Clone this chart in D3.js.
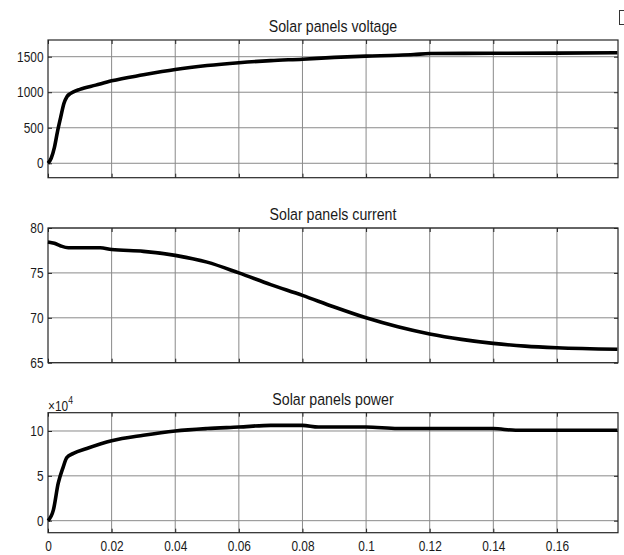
<!DOCTYPE html>
<html>
<head>
<meta charset="utf-8">
<script src="https://cdn.jsdelivr.net/npm/d3@7"></script>
<style>
  body { margin: 0; background: #fff; }
  svg { display: block; }
  text { font-family: "Liberation Sans", Arial, sans-serif; fill: #1a1a1a; }
</style>
</head>
<body>
<svg id="chart"></svg>
<script>
// readings taken off the scope plots
const xTicks = [0, 0.02, 0.04, 0.06, 0.08, 0.1, 0.12, 0.14, 0.16];

const voltageT = [0, 0.001, 0.002, 0.003, 0.004, 0.005, 0.006, 0.007, 0.008, 0.01, 0.015, 0.02, 0.03, 0.04, 0.05, 0.06, 0.07, 0.08, 0.09, 0.1, 0.11, 0.115, 0.12, 0.14, 0.16, 0.179];
const voltageV = [0, 70, 220, 450, 650, 840, 940, 980, 1005, 1040, 1100, 1160, 1245, 1320, 1375, 1415, 1445, 1465, 1490, 1508, 1520, 1530, 1545, 1548, 1550, 1555];
const voltageTicks = [0, 500, 1000, 1500];

const currentT = [0, 0.002, 0.004, 0.0064, 0.01, 0.0164, 0.02, 0.03, 0.04, 0.05, 0.06, 0.07, 0.08, 0.09, 0.1, 0.11, 0.12, 0.13, 0.14, 0.15, 0.16, 0.179];
const currentA = [78.45, 78.3, 78.0, 77.8, 77.8, 77.8, 77.6, 77.4, 76.95, 76.2, 75.0, 73.7, 72.5, 71.2, 70.0, 69.0, 68.2, 67.6, 67.15, 66.85, 66.67, 66.5];
const currentTicks = [65, 70, 75, 80];

const powerT = [0, 0.0017, 0.0032, 0.0048, 0.0059, 0.008, 0.0122, 0.02, 0.03, 0.04, 0.05, 0.06, 0.07, 0.08, 0.085, 0.1, 0.11, 0.14, 0.147, 0.16, 0.179];
const powerW = [0, 12000, 41500, 60000, 70400, 75000, 80400, 89000, 95200, 100000, 102700, 104400, 106300, 106300, 104400, 104400, 102700, 102700, 100800, 100800, 100800];
const powerTicks = [0, 50000, 100000];

const titles = ['Solar panels voltage', 'Solar panels current', 'Solar panels power'];

const W = 624, H = 555;
const svg = d3.select('#chart').attr('width', W).attr('height', H);

const left = 48, right = 618;
const x = d3.scaleLinear().domain([0, 0.1792]).range([left, right]);
const fmtX = d3.format('~g');

// squeeze text horizontally, the source uses a narrow face
function narrow(sel, k) {
  sel.each(function () {
    const t = d3.select(this);
    const tx = +t.attr('x') || 0;
    const ty = +t.attr('y') || 0;
    t.attr('x', 0).attr('y', 0).attr('transform', `translate(${tx},${ty}) scale(${k},1)`);
  });
}

const panels = [
  { title: titles[0], t: voltageT, v: voltageV, ticks: voltageTicks, domain: [-203, 1735], top: 40, bottom: 177.7, fmt: d => d },
  { title: titles[1], t: currentT, v: currentA, ticks: currentTicks, domain: [65, 80], top: 228, bottom: 362.7, fmt: d => d },
  { title: titles[2], t: powerT, v: powerW, ticks: powerTicks, domain: [-13400, 120400], top: 412.7, bottom: 532.7, fmt: d => d / 1e4 },
];

panels.forEach((p, i) => {
  const y = d3.scaleLinear().domain(p.domain).range([p.bottom, p.top]);
  const g = svg.append('g').classed('panel', true);

  // grid
  g.append('g').selectAll('line').data(xTicks.slice(1)).enter()
    .append('line')
    .attr('x1', d => x(d)).attr('x2', d => x(d))
    .attr('y1', p.top).attr('y2', p.bottom)
    .attr('stroke', '#8a8a8a').attr('stroke-width', 1);
  g.append('g').selectAll('line').data(p.ticks).enter()
    .append('line')
    .attr('x1', left).attr('x2', right)
    .attr('y1', d => y(d)).attr('y2', d => y(d))
    .attr('stroke', '#8a8a8a').attr('stroke-width', 1);

  // axes with inward ticks
  const yl = d3.axisLeft(y).tickValues(p.ticks).tickSizeInner(-4).tickSizeOuter(0).tickFormat(p.fmt);
  const yr = d3.axisRight(y).tickValues(p.ticks).tickSizeInner(-4).tickSizeOuter(0).tickFormat('');
  const xt = d3.axisTop(x).tickValues(xTicks).tickSizeInner(-4).tickSizeOuter(0).tickFormat('');
  const xb = d3.axisBottom(x).tickValues(xTicks).tickSizeInner(-4).tickSizeOuter(0)
    .tickFormat(i === 2 ? fmtX : '');

  const ga = g.append('g').attr('transform', `translate(${left},0)`).call(yl);
  g.append('g').attr('transform', `translate(${right},0)`).call(yr);
  g.append('g').attr('transform', `translate(0,${p.top})`).call(xt);
  const gb = g.append('g').attr('transform', `translate(0,${p.bottom})`).call(xb);
  g.selectAll('.domain').remove();
  g.selectAll('.tick line').attr('stroke', '#222');
  g.selectAll('.tick text').attr('font-size', 14.5).attr('fill', '#1a1a1a')
    .style('font-family', '"Liberation Sans", Arial, sans-serif');
  ga.selectAll('.tick text').attr('x', -4.5);
  gb.selectAll('.tick text').attr('y', 551 - p.bottom).attr('dy', 0);
  narrow(ga.selectAll('.tick text'), 0.82);
  narrow(gb.selectAll('.tick text'), 0.82);

  // box
  g.append('rect')
    .attr('x', left).attr('y', p.top)
    .attr('width', right - left).attr('height', p.bottom - p.top)
    .attr('fill', 'none').attr('stroke', '#262626').attr('stroke-width', 1.2);

  // title
  const tt = g.append('text')
    .attr('x', (left + right) / 2).attr('y', p.top - 8)
    .attr('text-anchor', 'middle').attr('font-size', 16.5)
    .text(p.title);
  narrow(tt, 0.86);

  // trace
  const line = d3.line()
    .x((d, k) => x(p.t[k]))
    .y(d => y(d))
    .curve(d3.curveMonotoneX);
  g.append('path').datum(p.v)
    .attr('d', line)
    .attr('fill', 'none').attr('stroke', '#000').attr('stroke-width', 3.6)
    .attr('stroke-linejoin', 'round');
});

// exponent label on power axis
const ex = svg.append('text').attr('x', 48).attr('y', 410.5).attr('font-size', 14.5);
ex.append('tspan').text('\u00d710');
ex.append('tspan').attr('dy', -7).attr('font-size', 10.5).text('4');
narrow(ex, 0.82);

// small figure dock glyph in the corner
svg.append('rect').attr('x', 619.5).attr('y', 10.5).attr('width', 8).attr('height', 14)
  .attr('fill', 'none').attr('stroke', '#333').attr('stroke-width', 1);
</script>
</body>
</html>
